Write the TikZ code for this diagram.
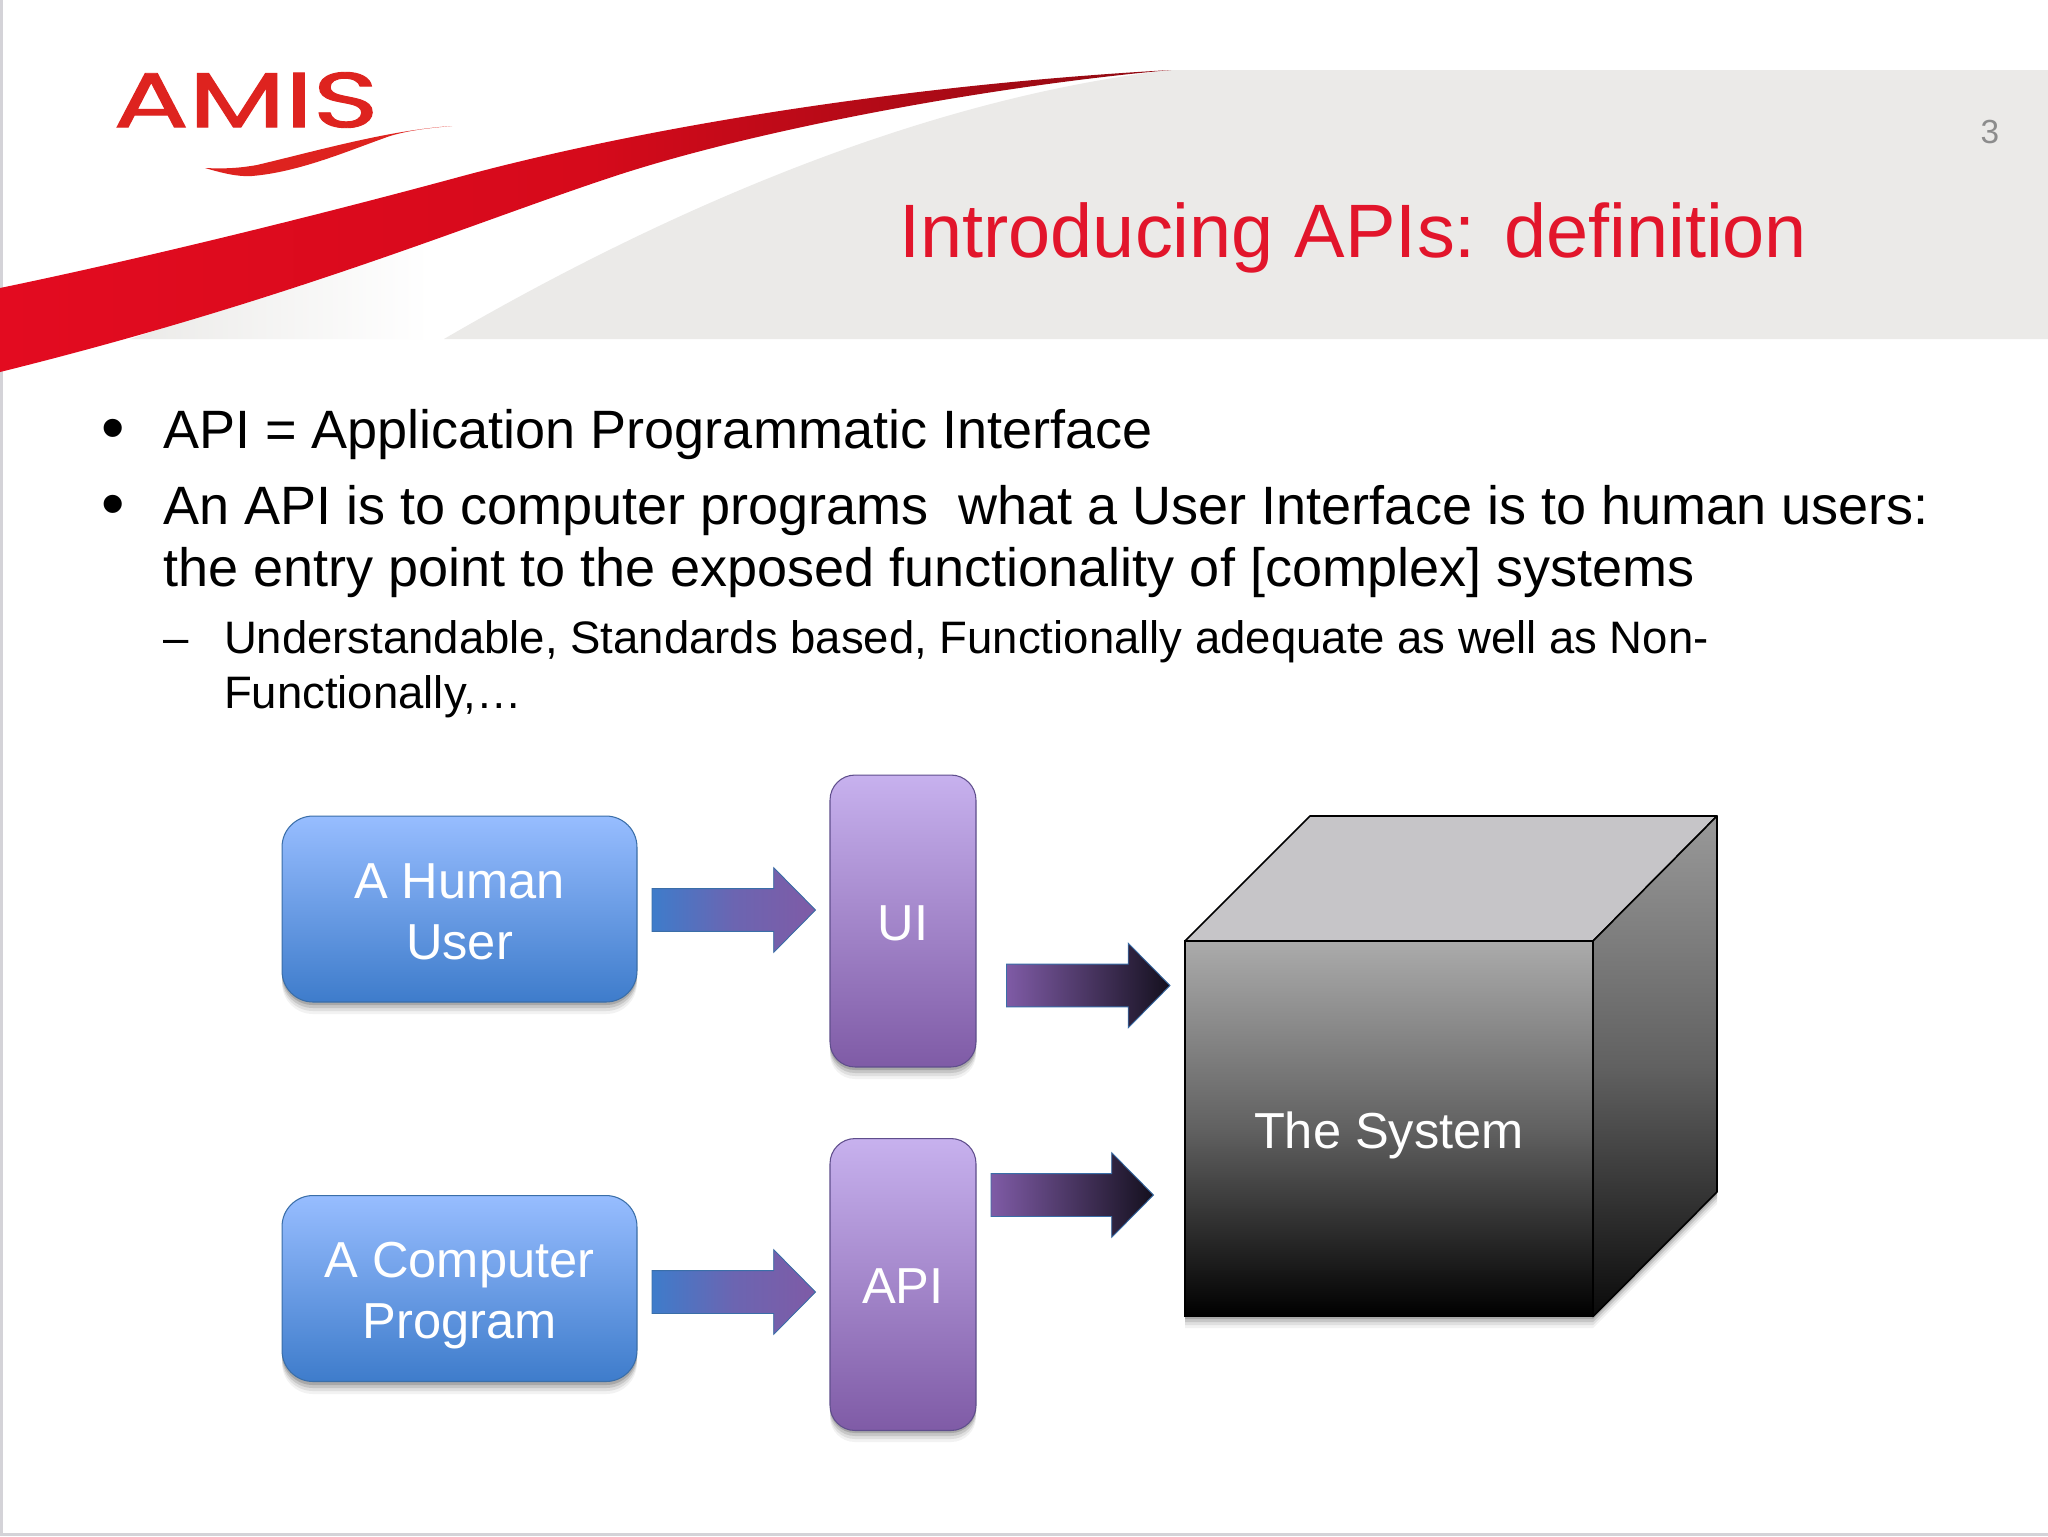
\documentclass[tikz,border=0pt]{standalone}
\usepackage{fontspec}
\setmainfont{Liberation Sans}
\newfontfamily\logofont[FakeBold=1.2]{Poppins}
\usetikzlibrary{calc}
\definecolor{bandgray}{HTML}{EBEAE8}
\definecolor{swred}{HTML}{E30B20}
\definecolor{swmid}{HTML}{D60A1B}
\definecolor{swdark}{HTML}{8F0A12}
\definecolor{logored}{HTML}{DE231F}
\definecolor{titlered}{HTML}{E2152B}
\definecolor{bluetop}{HTML}{97BDFF}
\definecolor{bluebot}{HTML}{3E7CCB}
\definecolor{blueedge}{HTML}{3A6EA8}
\definecolor{purptop}{HTML}{C7B1EE}
\definecolor{purpbot}{HTML}{7F5BA6}
\definecolor{purpedge}{HTML}{5F4E8C}
\definecolor{arrowdark}{HTML}{14101E}
\definecolor{edgegray}{HTML}{D4D3D8}
\definecolor{cubetop}{HTML}{C6C5C8}
\newcommand{\softshadow}[1]{%
  \fill[black,opacity=.05,shift={(0,12)}] #1;
  \fill[black,opacity=.08,shift={(0,9)}] #1;
  \fill[black,opacity=.11,shift={(0,6)}] #1;
  \fill[black,opacity=.15,shift={(0,3)}] #1;}
% block arrow between two named coordinates
\newcommand{\blockpath}[2]{let \p1=(#1),\p2=(#2) in
  (\x1,\y1+12.19pt) -- (\x2-23.8pt,\y1+12.19pt) -- (\x2-23.8pt,\y1+24.1pt) -- (\x2,\y1)
  -- (\x2-23.8pt,\y1-24.1pt) -- (\x2-23.8pt,\y1-12.19pt) -- (\x1,\y1-12.19pt) -- cycle}
\tikzset{
  x=0.02cm,y=-0.02cm,
  txt/.style={inner sep=0pt,outer sep=0pt,anchor=base west,text=black},
  boxbase/.style={draw,line width=0.6pt,inner sep=0pt,text=white,align=center,
    font=\fontsize{28.8}{34.8}\selectfont},
  bluebox/.style={boxbase,text height=80pt,rounded corners=0.62cm,draw=blueedge,top color=bluetop,bottom color=bluebot,minimum width=7.1cm,minimum height=3.72cm},
  purpbox/.style={boxbase,text height=40pt,rounded corners=0.5cm,draw=purpedge,top color=purptop,bottom color=purpbot,minimum width=2.92cm,minimum height=5.84cm},
  arrA/.style={draw=blueedge,line width=0.5pt,left color=bluebot,right color=purpbot,middle color=purpbot!70!bluebot},
  arrB/.style={draw=blueedge,line width=0.5pt,left color=purpbot,right color=arrowdark,middle color=purpbot!50!arrowdark},
  cubeedge/.style={draw=black,line width=0.9pt,line join=round},
}
\begin{document}
\begin{tikzpicture}
\useasboundingbox (0,0) rectangle (2048,1536);
\fill[white] (0,0) rectangle (2048,1536);
\fill[edgegray] (0,0) rectangle (3,1536);
\fill[edgegray] (0,1533) rectangle (2048,1536);
% header band
\fill[bandgray] (1171,70) -- (2048,70) -- (2048,339) -- (444,339) .. controls (700,190) and (950,95) .. (1171,70);
\begin{scope}
\clip (130,339) -- (612,177) -- (444,339) -- cycle;
\shade[left color=bandgray,right color=white] (130,100) rectangle (430,339);
\end{scope}
% red swoosh
\shade[left color=swred,right color=swdark,middle color=swmid] (0,288) .. controls (150,257) and (330,212) .. (459,177)
  .. controls (640,128) and (900,85) .. (1171,70)
  .. controls (1000,85) and (760,128) .. (612,177)
  .. controls (470,224) and (290,300) .. (0,372) -- cycle;
% logo
\node[inner sep=0pt,text=logored] (logo) at (246,100) {\resizebox{5.3cm}{1.1cm}{\logofont\fontsize{30}{30}\selectfont AMIS}};
\fill[logored] (452,126) .. controls (390,130) and (320,150) .. (257,165) .. controls (240,168) and (225,169) .. (205,168)
  .. controls (222,173) and (238,177) .. (252,176) .. controls (300,172) and (350,150) .. (390,136) .. controls (410,130) and (430,128) .. (452,126);
% title and page number
\node[inner sep=0pt,anchor=base west,text=titlered,font=\fontsize{43.1}{43}\selectfont] (title) at (899,257) {Introducing APIs: definition};
\node[inner sep=0pt,text=black!45,font=\fontsize{19}{19}\selectfont] (pagenum) at (1990,132) {3};
% body text
\node[txt,font=\fontsize{38}{38}\selectfont] (b1m) at (101.7,450) {•};
\node[txt,font=\fontsize{30.75}{30}\selectfont] (b1) at (163,448) {API = Application Programmatic Interface};
\node[txt,font=\fontsize{38}{38}\selectfont] (b2m) at (101.7,526.5) {•};
\node[txt,font=\fontsize{30.75}{30}\selectfont] (b2) at (163,524) {An API is to computer programs\ \ what a User Interface is to human users:};
\node[txt,font=\fontsize{30.75}{30}\selectfont] (b3) at (163,586) {the entry point to the exposed functionality of [complex] systems};
\node[txt,font=\fontsize{25.9}{25}\selectfont] (s1m) at (163,653) {–};
\node[txt,font=\fontsize{25.9}{25}\selectfont] (s1) at (224,653) {Understandable, Standards based, Functionally adequate as well as Non-};
\node[txt,font=\fontsize{25.9}{25}\selectfont] (s2) at (224,708) {Functionally,…};
% shadows
\softshadow{[rounded corners=0.62cm] (282,816) rectangle (637,1002)}
\softshadow{[rounded corners=0.62cm] (282,1195) rectangle (637,1382)}
\softshadow{[rounded corners=0.5cm] (830,775) rectangle (976,1067)}
\softshadow{[rounded corners=0.5cm] (830,1139) rectangle (976,1430)}
\softshadow{(1185,1316) -- (1593,1316) -- (1717,1192) -- (1717,1150) -- (1185,1150) -- cycle}
% boxes
\node[bluebox,text depth=22.2pt] (human) at (459.5,909) {A Human\\User};
\node[bluebox,text depth=22.8pt] (computer) at (459.5,1288.5) {A Computer\\Program};
\node[purpbox,text depth=17.5pt] (ui) at (903,921) {UI};
\node[purpbox,text depth=18.4pt] (api) at (903,1284.5) {API};
% cube
\coordinate (ftl) at (1185,941);
\coordinate (ftr) at (1593,941);
\coordinate (fbl) at (1185,1316.5);
\coordinate (fbr) at (1593,1316.5);
\coordinate (btl) at (1310,816);
\coordinate (btr) at (1717,816);
\coordinate (bbr) at (1717,1192);
\draw[cubeedge,fill=cubetop] (ftl) -- (btl) -- (btr) -- (ftr) -- cycle;
\shade[top color=black!40,bottom color=black!96,middle color=black!62] (ftr) -- (btr) -- (bbr) -- (fbr) -- cycle;
\draw[cubeedge] (ftr) -- (btr) -- (bbr) -- (fbr) -- cycle;
\node[inner sep=0pt,minimum width=8.16cm,minimum height=7.51cm,top color=black!33,bottom color=black,middle color=black!62,draw=black,line width=0.9pt] (system) at (1389,1128.75) {};
\node[inner sep=0pt,anchor=base,text=white,font=\fontsize{28.8}{35}\selectfont] (systemlabel) at (1389,1148) {The System};
% block arrows
\coordinate (a1s) at (652,910);
\coordinate (a1e) at (815.5,910);
\coordinate (a2s) at (652,1292);
\coordinate (a2e) at (815.5,1292);
\coordinate (a3s) at (1006.5,985.5);
\coordinate (a3e) at (1170,985.5);
\coordinate (a4s) at (991,1195);
\coordinate (a4e) at (1153.5,1195);
\foreach \s/\e in {a1s/a1e,a2s/a2e,a3s/a3e,a4s/a4e}{\softshadow{\blockpath{\s}{\e}}}
\path[arrA] \blockpath{a1s}{a1e};
\path[arrA] \blockpath{a2s}{a2e};
\path[arrB] \blockpath{a3s}{a3e};
\path[arrB] \blockpath{a4s}{a4e};
\end{tikzpicture}
\end{document}
